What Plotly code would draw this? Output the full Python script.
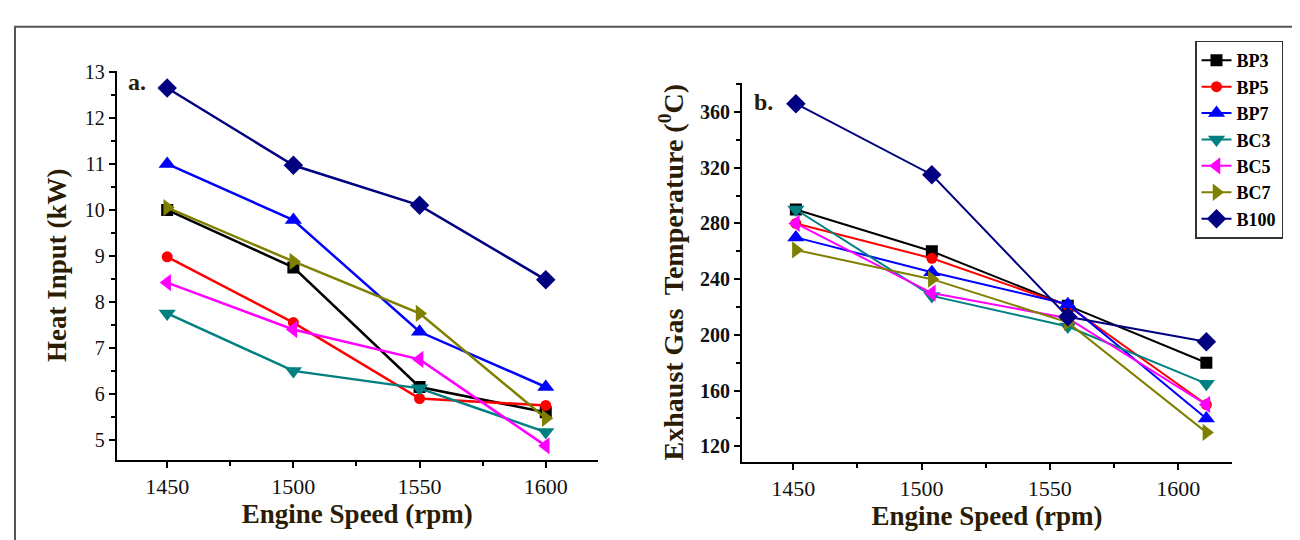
import plotly.graph_objects as go

series = ["BP3", "BP5", "BP7", "BC3", "BC5", "BC7", "B100"]
colors = ["#000000", "#ff0000", "#0000ff", "#008080", "#ff00ff", "#808000", "#000080"]
symbols = ["square", "circle", "triangle-up", "triangle-down", "triangle-left", "triangle-right", "diamond"]
msizes = [12, 11, 15, 15, 15, 15, 15]

speed_a = [1450, 1500, 1550, 1600]
heat_input = {
    "BP3": [10.0, 8.75, 6.15, 5.6],
    "BP5": [8.98, 7.55, 5.9, 5.75],
    "BP7": [11.0, 9.78, 7.35, 6.15],
    "BC3": [7.75, 6.5, 6.12, 5.17],
    "BC5": [8.42, 7.4, 6.75, 4.87],
    "BC7": [10.05, 8.88, 7.75, 5.47],
    "B100": [12.65, 10.97, 10.1, 8.48],
}

speed_b = [1451, 1504, 1557, 1611]
egt = {
    "BP3": [290, 260, 221, 180],
    "BP5": [280, 255, 221, 150],
    "BP7": [270, 245, 222, 140],
    "BC3": [290, 228, 206, 165],
    "BC5": [280, 230, 212, 150],
    "BC7": [261, 240, 209, 130],
    "B100": [366, 315, 213, 195],
}

FONT = "Liberation Serif"
TITLE_COLOR = "#2a1c05"

fig = go.Figure()
for s, c, m, ms in zip(series, colors, symbols, msizes):
    fig.add_trace(go.Scatter(x=speed_a, y=heat_input[s], mode="lines+markers", name=s,
                             line=dict(color=c, width=2.5),
                             marker=dict(symbol=m, size=ms, color=c),
                             xaxis="x", yaxis="y", showlegend=False))
for s, c, m, ms in zip(series, colors, symbols, msizes):
    fig.add_trace(go.Scatter(x=speed_b, y=egt[s], mode="lines+markers", name="<b>" + s + "</b>",
                             line=dict(color=c, width=2),
                             marker=dict(symbol=m, size=ms, color=c),
                             xaxis="x2", yaxis="y2", showlegend=True))

W, H = 1300, 540

def axcommon(tsize):
    return dict(showline=True, linecolor="black", linewidth=2, ticks="outside",
                ticklen=6, tickwidth=2, tickcolor="black", showgrid=False, zeroline=False,
                mirror=False,
                tickfont=dict(family=FONT, size=tsize, color="#111111"),
                title_font=dict(family=FONT, size=27, color=TITLE_COLOR))

minor_style = dict(ticks="outside", ticklen=4, tickwidth=2, tickcolor="black")

xa = axcommon(22)
xa.update(domain=[108.7 / W, 590 / W], range=[1430, 1620.7], dtick=50, tick0=1450,
          anchor="y", title=dict(text="<b>Engine Speed (rpm)</b>", standoff=2),
          minor=dict(dtick=25, **minor_style))
ya = axcommon(20)
ya.update(domain=[1 - 450 / H, 1 - 54 / H], range=[4.57, 13.02], dtick=1, tick0=5,
          anchor="x", title=dict(text="<b>Heat Input (kW)</b>", standoff=10),
          minor=dict(dtick=0.5, **minor_style))
xb = axcommon(22)
xb.update(domain=[734 / W, 1224 / W], range=[1430, 1621], dtick=50, tick0=1450,
          anchor="y2", title=dict(text="<b>Engine Speed (rpm)</b>", standoff=2),
          minor=dict(dtick=25, **minor_style))
yb = axcommon(20)
yb.update(domain=[1 - 452 / H, 1 - 66 / H], range=[109, 381], dtick=40, tick0=120,
          anchor="x2", tickprefix="<b>", ticksuffix="</b>",
          title=dict(text="<b>Exhaust Gas  Temperature (<sup>0</sup>C)</b>", standoff=8),
          minor=dict(dtick=20, **minor_style))
yb["title_font"] = dict(family=FONT, size=28, color=TITLE_COLOR)

fig.update_layout(
    width=W, height=H, margin=dict(l=0, r=0, t=0, b=0),
    paper_bgcolor="white", plot_bgcolor="white",
    font=dict(family=FONT, color="black"),
    xaxis=xa, yaxis=ya, xaxis2=xb, yaxis2=yb,
    legend=dict(x=1187 / W, y=1 - 23 / H, xanchor="left", yanchor="top",
                bordercolor="#333333", borderwidth=1.5, bgcolor="white",
                font=dict(family=FONT, size=18, color="black"),
                tracegroupgap=0, itemwidth=30, traceorder="normal"),
    shapes=[dict(type="rect", xref="paper", yref="paper", x0=7 / W, x1=1296 / W,
                 y0=-0.05, y1=1 - 9 / H, line=dict(color="#555555", width=2))],
    annotations=[
        dict(text="<b>a.</b>", x=118 / W, y=1 - 65 / H, xref="paper", yref="paper",
             xanchor="left", yanchor="middle", showarrow=False,
             font=dict(family=FONT, size=24, color=TITLE_COLOR)),
        dict(text="<b>b.</b>", x=744 / W, y=1 - 86 / H, xref="paper", yref="paper",
             xanchor="left", yanchor="middle", showarrow=False,
             font=dict(family=FONT, size=24, color=TITLE_COLOR)),
    ],
)

fig.write_html("out.html")
